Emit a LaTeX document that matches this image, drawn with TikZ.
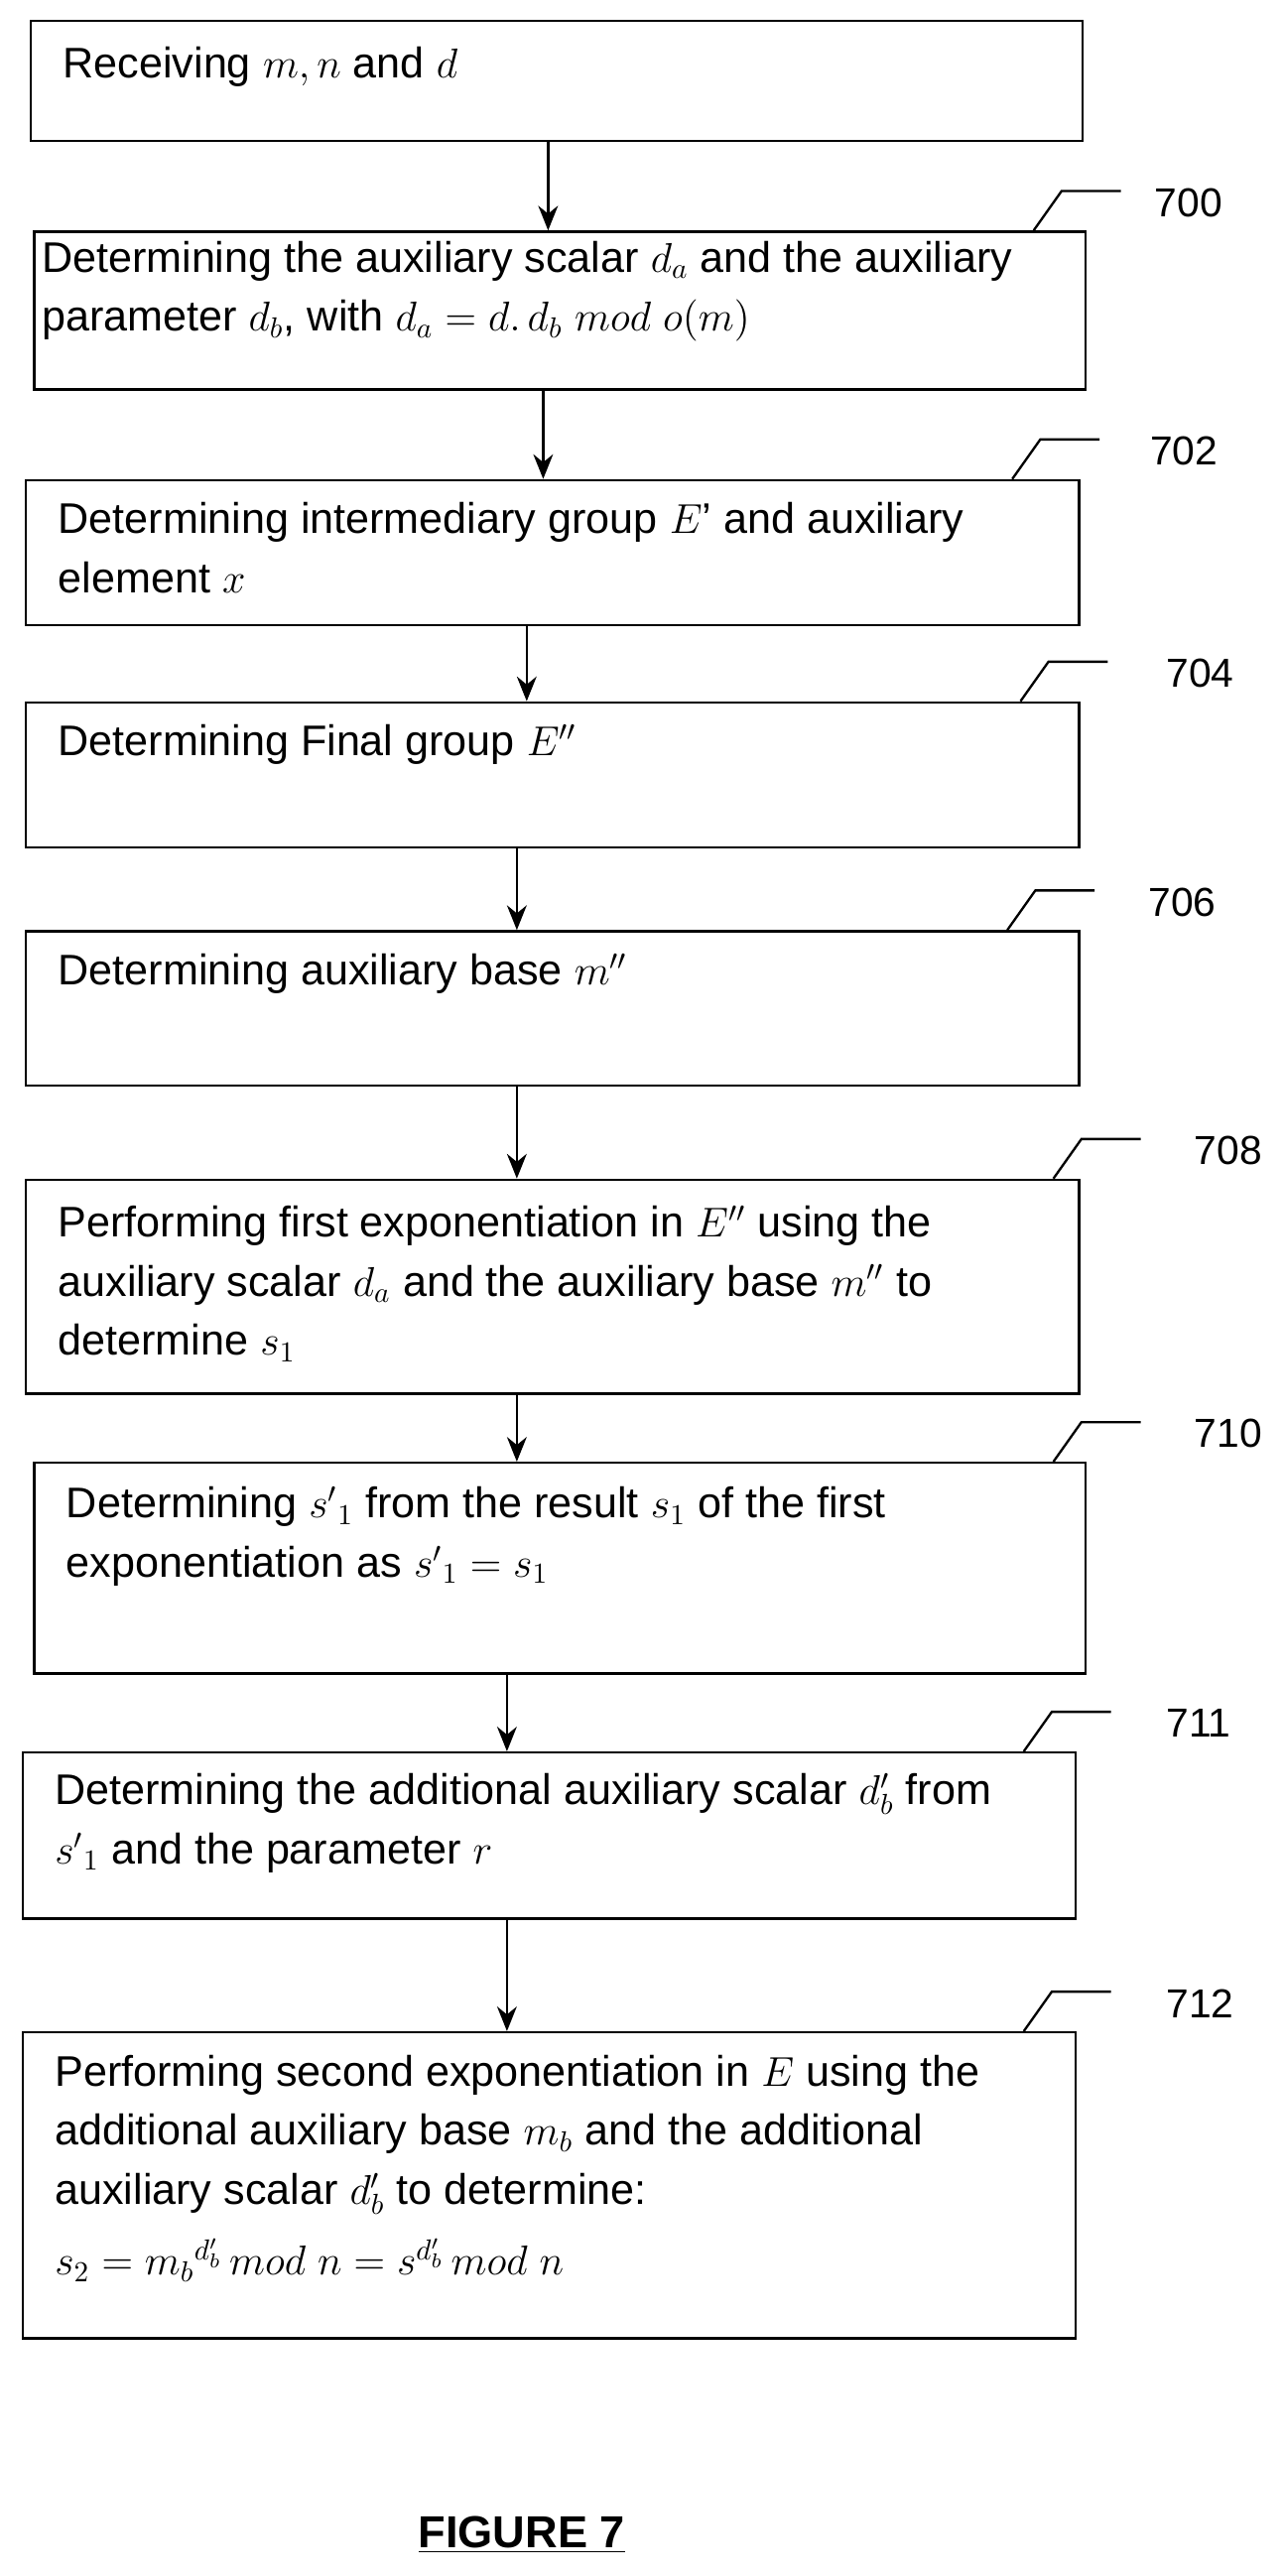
\documentclass[tikz,border=0pt]{standalone}
\usepackage{fontspec}
\setmainfont{Liberation Sans}
\usetikzlibrary{arrows.meta,positioning}

\begin{document}
\begin{tikzpicture}[
  x=0.02cm, y=-0.02cm,
  box/.style={rectangle, draw, thick, anchor=north west, inner sep=0pt},
  txt/.style={anchor=north west, align=left, inner sep=0pt, font=\fontsize{14.8}{20.5}\selectfont},
  arr/.style={-{Stealth[length=3mm,width=2.4mm]}, thick},
  lead/.style={thick},
  num/.style={anchor=west, inner sep=0pt, font=\fontsize{14}{16}\selectfont}
]
\useasboundingbox (0,0) rectangle (780,1565);

% boxes
\node[box, minimum width=12.78cm, minimum height=1.46cm] (b1) at (18,12) {};
\node[box, minimum width=12.78cm, minimum height=1.92cm] (b2) at (20,140) {};
\node[box, minimum width=12.8cm, minimum height=1.76cm] (b3) at (15,291) {};
\node[box, minimum width=12.8cm, minimum height=1.76cm] (b4) at (15,426) {};
\node[box, minimum width=12.8cm, minimum height=1.88cm] (b5) at (15,565) {};
\node[box, minimum width=12.8cm, minimum height=2.6cm] (b6) at (15,716) {};
\node[box, minimum width=12.78cm, minimum height=2.56cm] (b7) at (20,888) {};
\node[box, minimum width=12.8cm, minimum height=2.02cm] (b8) at (13,1064) {};
\node[box, minimum width=12.8cm, minimum height=3.72cm] (b9) at (13,1234) {};

% texts
\node[txt] (t1) at (38,28) {Receiving $m,n$ and $d$};
\node[txt] (t2) at (25,146) {Determining the auxiliary scalar $d_a$ and the auxiliary\\
  parameter $d_b$, with $d_a = d.\,d_b\ \mathnormal{mod}\ o(m)$};
\node[txt] (t3) at (35,305) {Determining intermediary group $E$’ and auxiliary\\element $x$};
\node[txt] (t4) at (35,440) {Determining Final group $E''$};
\node[txt] (t5) at (35,579) {Determining auxiliary base $m''$};
\node[txt] (t6) at (35,732) {Performing first exponentiation in $E''$ using the\\
  auxiliary scalar $d_a$ and the auxiliary base $m''$ to\\determine $s_1$};
\node[txt] (t7) at (40,903) {Determining ${s'}_1$ from the result $s_1$ of the first\\
  exponentiation as ${s'}_1 = s_1$};
\node[txt] (t8) at (33,1077) {Determining the additional auxiliary scalar $d_b'$ from\\
  ${s'}_1$ and the parameter $r$};
\node[txt] (t9) at (33,1248) {Performing second exponentiation in $E$ using the\\
  additional auxiliary base $m_b$ and the additional\\
  auxiliary scalar $d_b'$ to determine:\\[4pt]
  $s_2 = {m_b}^{d_b'}\,\mathnormal{mod}\ n = s^{d_b'}\,\mathnormal{mod}\ n$};

% arrows
\draw[arr] (333,0 |- b1.south) -- (333,0 |- b2.north);
\draw[arr] (330,0 |- b2.south) -- (330,0 |- b3.north);
\draw[arr] (320,0 |- b3.south) -- (320,0 |- b4.north);
\draw[arr] (314,0 |- b4.south) -- (314,0 |- b5.north);
\draw[arr] (314,0 |- b5.south) -- (314,0 |- b6.north);
\draw[arr] (314,0 |- b6.south) -- (314,0 |- b7.north);
\draw[arr] (308,0 |- b7.south) -- (308,0 |- b8.north);
\draw[arr] (308,0 |- b8.south) -- (308,0 |- b9.north);

% reference numerals
\foreach \b/\x/\d/\l in {b2/628/20/700, b3/615/30/702, b4/620/35/704, b5/612/32/706,
                          b6/640/32/708, b7/640/32/710, b8/622/33/711, b9/622/33/712}
  \draw[lead] (\x,0 |- \b.north) -- ++(17,-24) -- ++(36,0)
    node[num, xshift=\d*0.02cm, yshift=-4pt] (n\l) {\l};

\node[font=\fontsize{15.5}{18}\selectfont\bfseries] (fig) at (317,1540) {\underline{FIGURE 7}};
\end{tikzpicture}
\end{document}
